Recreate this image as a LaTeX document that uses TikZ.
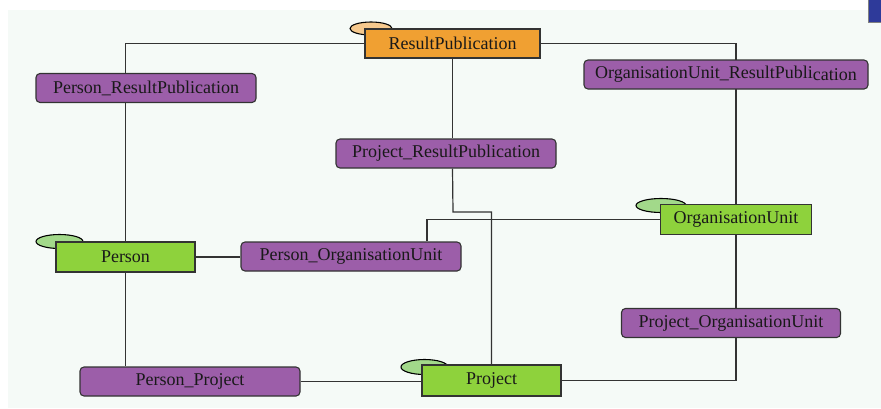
\documentclass[tikz,border=0pt]{standalone}
\usepackage{fontspec}
\setmainfont{Liberation Serif}
\newfontfamily\timesx{Liberation Serif}
\usetikzlibrary{backgrounds}
\definecolor{bgmint}{HTML}{F5FAF7}
\definecolor{orangebox}{HTML}{F0A032}
\definecolor{purplebox}{HTML}{9C5EA9}
\definecolor{greenbox}{HTML}{8ED23C}
\definecolor{orangeblob}{HTML}{F6C98E}
\definecolor{greenblob}{HTML}{A2D98A}
\definecolor{linegrey}{HTML}{333333}
\definecolor{bluebox}{HTML}{2E3A9A}
\begin{document}
\begin{tikzpicture}[x=1pt,y=-1pt,
  every node/.style={font=\timesx\fontsize{18}{20}\selectfont, text=black!90, inner sep=0pt},
  boxbase/.style={draw=black!80, line width=1.1pt, minimum height=29pt},
  entity/.style={boxbase, fill=greenbox},
  mainent/.style={boxbase, fill=orangebox},
  relbox/.style={boxbase, fill=purplebox, rounded corners=4pt},
  conn/.style={draw=linegrey, line width=1.2pt}
]
\useasboundingbox (0,0) rectangle (881,408);
\begin{scope}[on background layer]
  \fill[white] (0,0) rectangle (881,408);
  \fill[bgmint] (8,10) rectangle (881,408);
\end{scope}
\fill[bluebox] (868,0) rectangle (881,22);
\draw[gray, line width=0.8pt] (868,0) -- (868,22) -- (881,22);

% blobs (behind boxes)
\draw[line width=1.1pt, fill=orangeblob] (371,28.5) ellipse (21pt and 6.5pt);
\draw[line width=1.1pt, fill=greenblob] (661,205.5) ellipse (25pt and 7pt);
\draw[line width=1.1pt, fill=greenblob] (59.5,241.5) ellipse (23.5pt and 7pt);
\draw[line width=1.1pt, fill=greenblob] (424.5,367) ellipse (23.5pt and 7.5pt);

% nodes
\node[mainent, minimum width=175pt] (RP) at (452.5,43.5) {ResultPublication};
\node[relbox, minimum width=220pt] (PRP) at (146,88) {Person\_ResultPublication};
\node[relbox, minimum width=220pt] (PjRP) at (446,153.5) {Project\_ResultPublication};
\node[relbox, minimum width=284pt] (OURP) at (726,74.5) {OrganisationUnit\_ResultPubli\raisebox{-1.5pt}{cation}};
\node[entity, minimum width=151pt, minimum height=30pt] (OU) at (736,219.5) {OrganisationUnit};
\node[entity, minimum width=139pt, minimum height=30pt] (Person) at (125.5,257) {Person};
\node[relbox, minimum width=220pt] (POU) at (351,256.5) {Person\_OrganisationUnit};
\node[relbox, minimum width=220pt] (PP) at (190,381.5) {Person\_Project};
\node[entity, minimum width=139pt, minimum height=31pt] (Project) at (491.5,380.5) {Project};
\node[relbox, minimum width=219pt] (PjOU) at (731,323) {Project\_OrganisationUnit};

\coordinate (k1) at (453,212);
\coordinate (k2) at (427,219.5);

% connectors
\begin{scope}[on background layer]
  \draw[conn] (RP.west) -| (Person.north);
  \draw[conn] (Person.south) -- (Person.south |- PP.north);
  \draw[conn] (RP.east) -| (OU.north);
  \draw[conn] (OU.south) |- (Project.east);
  \draw[conn] (RP.south) -- (RP.south |- PjRP.north);
  \draw[conn] (RP.south |- PjRP.south) -- (k1) -| (Project.north);
  \draw[conn] (Person.east) -- (Person.east -| POU.west);
  \draw[conn] (k2 |- POU.north) -- (k2) -- (OU.west);
  \draw[conn] (PP.east) -- (PP.east -| Project.west);
\end{scope}
\end{tikzpicture}
\end{document}
